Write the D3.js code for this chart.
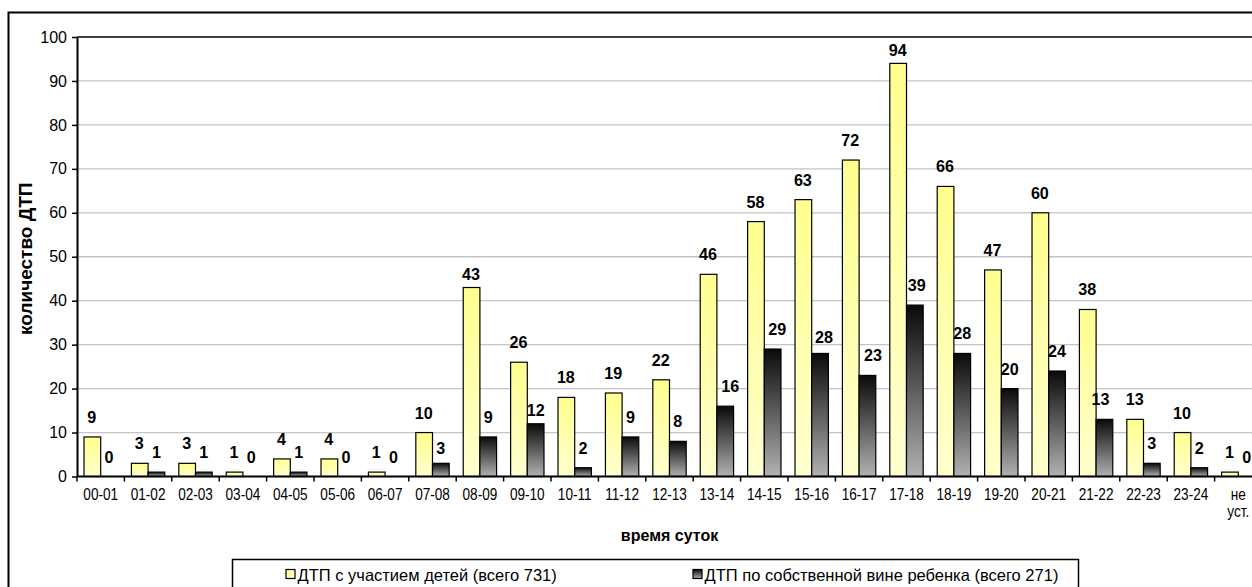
<!DOCTYPE html>
<html>
<head>
<meta charset="utf-8">
<script src="https://cdn.jsdelivr.net/npm/d3@7"></script>
<style>
  html, body { margin: 0; padding: 0; background: #fff; }
  svg { display: block; font-family: "Liberation Sans", Arial, sans-serif; }
</style>
</head>
<body>
<svg id="chart" width="1252" height="587"></svg>
<script>
// Time-of-day buckets
const categories = ["00-01","01-02","02-03","03-04","04-05","05-06","06-07","07-08","08-09","09-10",
  "10-11","11-12","12-13","13-14","14-15","15-16","16-17","17-18","18-19","19-20",
  "20-21","21-22","22-23","23-24","не уст."];
// Road accidents involving children
const withChildren = [9,3,3,1,4,4,1,10,43,26,18,19,22,46,58,63,72,94,66,47,60,38,13,10,1];
// Road accidents caused by the child
const childFault = [0,1,1,0,1,0,0,3,9,12,2,9,8,16,29,28,23,39,28,20,24,13,3,2,0];
const yTicks = [0,10,20,30,40,50,60,70,80,90,100];
const seriesNames = [
  `ДТП с участием детей (всего ${d3.sum(withChildren)})`,
  `ДТП по собственной вине ребенка (всего ${d3.sum(childFault)})`
];
const yTitle = "количество ДТП";
const xTitle = "время суток";

// hand-placed value labels: [series, category, dx, dy]
const labelNudges = [
  [0, "08-09", 0, 6.5],
  [1, "07-08", 0, 5],
  [1, "09-10", 0, 6],
  [1, "13-14", 5, 0],
  [1, "14-15", 4.5, 0],
  [1, "15-16", 4, 4],
  [1, "16-17", 5.5, 0],
  [1, "17-18", 2, 0],
  [1, "21-22", -4, 0]
];

const svg = d3.select("#chart");

// plot frame
const plot = { left: 77, right: 1262, top: 37, bottom: 476.5 };

const x = d3.scaleBand().domain(categories).range([plot.left, plot.right]).padding(0);
const bw = x.bandwidth();
const inner = d3.scaleBand().domain([0, 1]).range([bw * 0.148, bw * 0.852]).padding(0);
const y = d3.scaleLinear().domain([0, 100]).range([plot.bottom, plot.top]);

// gradients
const defs = svg.append("defs");
const gy = defs.append("linearGradient").attr("id", "gYellow").attr("x1", 0).attr("y1", 0).attr("x2", 0).attr("y2", 1);
gy.append("stop").attr("offset", "0%").attr("stop-color", "#ffff8e");
gy.append("stop").attr("offset", "100%").attr("stop-color", "#ffffcf");
const gd = defs.append("linearGradient").attr("id", "gDark").attr("x1", 0).attr("y1", 0).attr("x2", 0).attr("y2", 1);
gd.append("stop").attr("offset", "0%").attr("stop-color", "#0a0a0a");
gd.append("stop").attr("offset", "100%").attr("stop-color", "#b2b2b2");

// outer chart border
svg.append("rect")
  .attr("x", 8.5).attr("y", 12.5).attr("width", 1300).attr("height", 700)
  .attr("fill", "none").attr("stroke", "#000").attr("stroke-width", 2);

// gridlines
svg.append("g").selectAll("line").data(yTicks.filter(d => d > 0 && d < 100)).join("line")
  .attr("x1", plot.left).attr("x2", plot.right)
  .attr("y1", d => y(d)).attr("y2", d => y(d))
  .attr("stroke", "#c4c4c4").attr("stroke-width", 1.3);

// plot top border
svg.append("line").attr("x1", plot.left).attr("x2", plot.right)
  .attr("y1", y(100)).attr("y2", y(100)).attr("stroke", "#000").attr("stroke-width", 1.6);

// y axis
const yAxis = svg.append("g").attr("transform", `translate(${plot.left},0)`)
  .call(d3.axisLeft(y).tickValues(yTicks).tickSize(5).tickSizeOuter(0).tickPadding(5));
yAxis.select(".domain").attr("stroke", "#000").attr("stroke-width", 2);
yAxis.selectAll(".tick line").attr("stroke", "#000").attr("stroke-width", 1.5);
yAxis.selectAll(".tick text")
  .attr("font-family", "Liberation Sans, Arial, sans-serif")
  .attr("font-size", 16).attr("fill", "#000");

// bars
const groups = svg.append("g").selectAll("g").data(categories).join("g")
  .attr("transform", d => `translate(${x(d)},0)`);

groups.append("rect")
  .attr("x", inner(0)).attr("width", inner.bandwidth())
  .attr("y", (d, i) => y(withChildren[i]))
  .attr("height", (d, i) => y(0) - y(withChildren[i]))
  .attr("fill", "url(#gYellow)").attr("stroke", "#000").attr("stroke-width", 1.2);

groups.filter((d, i) => childFault[i] > 0).append("rect")
  .attr("x", inner(1)).attr("width", inner.bandwidth())
  .attr("y", d => y(childFault[categories.indexOf(d)]))
  .attr("height", d => y(0) - y(childFault[categories.indexOf(d)]))
  .attr("fill", "url(#gDark)").attr("stroke", "#000").attr("stroke-width", 1.2);

// x axis
const xAxis = svg.append("g").attr("transform", `translate(0,${plot.bottom})`);
xAxis.append("line").attr("x1", plot.left).attr("x2", plot.right)
  .attr("stroke", "#000").attr("stroke-width", 2);
xAxis.selectAll("line.tk").data(categories).join("line").attr("class", "tk")
  .attr("x1", d => x(d)).attr("x2", d => x(d)).attr("y1", 0).attr("y2", 5)
  .attr("stroke", "#000").attr("stroke-width", 1.5);

const xl = xAxis.selectAll("g.lbl").data(categories).join("g").attr("class", "lbl")
  .attr("transform", d => `translate(${x(d) + bw / 2},23) scale(0.85,1)`);
xl.each(function(d) {
  const parts = d.split(" ");
  const t = d3.select(this).append("text").attr("text-anchor", "middle")
    .attr("font-size", 16).attr("fill", "#000");
  parts.forEach((p, k) => t.append("tspan").attr("x", 0).attr("dy", k === 0 ? 0 : 18).text(p));
});

// value labels
function nudgeFor(s, c) {
  const n = labelNudges.find(e => e[0] === s && e[1] === c);
  return n ? [n[2], n[3]] : [0, 0];
}
function valueLabel(val, cx, s, c) {
  const [dx, dy] = nudgeFor(s, c);
  const base = Math.max(y(val) - 14, 56) + dy;
  svg.append("text")
    .attr("transform", `translate(${cx + dx},${base}) scale(0.95,1)`)
    .attr("text-anchor", "middle").attr("font-weight", "bold").attr("font-size", 17)
    .attr("fill", "#000").text(val);
}
categories.forEach((c, i) => {
  valueLabel(withChildren[i], x(c) + inner(0) + inner.bandwidth() / 2 - 0.5, 0, c);
  valueLabel(childFault[i], x(c) + inner(1) + inner.bandwidth() / 2, 1, c);
});

// axis titles
svg.append("text")
  .attr("transform", `translate(${(plot.left + plot.right) / 2},541)`)
  .attr("text-anchor", "middle").attr("font-weight", "bold").attr("font-size", 16)
  .text(xTitle);
svg.append("text")
  .attr("transform", `translate(32,${(plot.top + plot.bottom) / 2 + 2}) rotate(-90)`)
  .attr("text-anchor", "middle").attr("font-weight", "bold").attr("font-size", 19)
  .text(yTitle);

// legend
const lg = svg.append("g");
lg.append("rect").attr("x", 232.5).attr("y", 559.5).attr("width", 846).attr("height", 40)
  .attr("fill", "#fff").attr("stroke", "#000").attr("stroke-width", 1.5);
const legendItems = [
  { name: seriesNames[0], fill: "url(#gYellow)", x: 286 },
  { name: seriesNames[1], fill: "url(#gDark)", x: 693 }
];
legendItems.forEach(it => {
  lg.append("rect").attr("x", it.x).attr("y", 569.5).attr("width", 9).attr("height", 9)
    .attr("fill", it.fill).attr("stroke", "#000").attr("stroke-width", 1.2);
  lg.append("text")
    .attr("transform", `translate(${it.x + 11.5},581)`)
    .attr("font-size", 16.5).attr("fill", "#000").text(it.name);
});
</script>
</body>
</html>
